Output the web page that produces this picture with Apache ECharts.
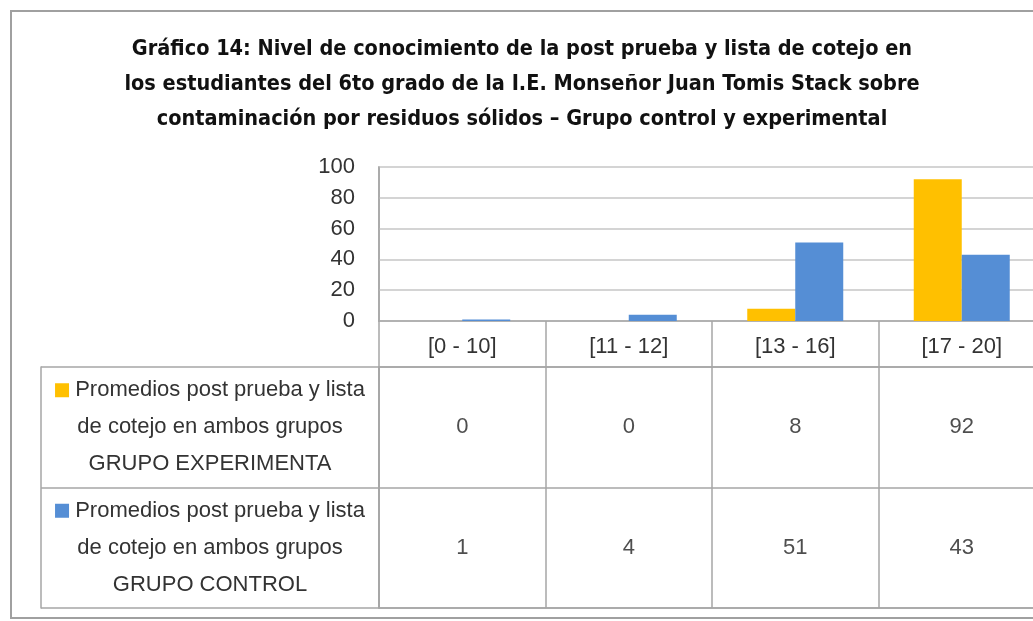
<!DOCTYPE html>
<html>
<head>
<meta charset="utf-8">
<title>Gráfico 14</title>
<script src="https://cdn.jsdelivr.net/npm/echarts@6/dist/echarts.min.js"></script>
<style>
  html, body { margin: 0; padding: 0; background: #fff; }
  #chart { width: 1033px; height: 621px; }
</style>
</head>
<body>
<div id="chart"></div>
<script>
// data
var categories = ['[0 - 10]', '[11 - 12]', '[13 - 16]', '[17 - 20]'];
var seriesNames = [
  'Promedios post prueba y lista\nde cotejo en ambos grupos\nGRUPO EXPERIMENTA',
  'Promedios post prueba y lista\nde cotejo en ambos grupos\nGRUPO CONTROL'
];
var experimental = [0, 0, 8, 92];
var control = [1, 4, 51, 43];
var yTicks = { min: 0, max: 100, interval: 20 };

var colors = ['#FFC000', '#558ED5'];
var lineGray = '#a6a6a6';
var textGray = '#333333';
var font = "'Liberation Sans', Arial, sans-serif";

var chart = echarts.init(document.getElementById('chart'));

// table cells: [column, row, value]
var cellsExp = experimental.map(function (v, i) { return [i, 0, v]; });
var cellsCtrl = control.map(function (v, i) { return [i, 1, v]; });

var option = {
  backgroundColor: '#fff',
  animation: false,
  title: {
    text: 'Gráfico 14: Nivel de conocimiento de la post prueba y lista de cotejo en\n' +
          'los estudiantes del 6to grado de la I.E. Monseñor Juan Tomis Stack sobre\n' +
          'contaminación por residuos sólidos – Grupo control y experimental',
    left: 517,
    top: 27,
    textAlign: 'center',
    textStyle: {
      fontFamily: "'Liberation Sans Narrow', 'DejaVu Sans Condensed', sans-serif",
      fontWeight: 'bold',
      fontSize: 21.5,
      lineHeight: 35,
      color: '#111'
    }
  },
  graphic: [{
    type: 'rect',
    shape: { x: 11, y: 11, width: 1040, height: 607 },
    style: { fill: 'none', stroke: '#a0a0a0', lineWidth: 2 },
    silent: true
  }],
  grid: [
    { left: 379, top: 167, width: 666, height: 154, outerBoundsMode: 'none', show: true, borderColor: lineGray, borderWidth: 1.5 },
    { left: 379, top: 367, width: 666, height: 241, outerBoundsMode: 'none', show: true, borderColor: lineGray, borderWidth: 1.5 }
  ],
  xAxis: [
    {
      gridIndex: 0,
      type: 'category',
      data: categories,
      axisLine: { show: true, lineStyle: { color: lineGray, width: 1.5 } },
      axisTick: { show: true, length: 46, interval: 0, lineStyle: { color: lineGray, width: 1.5 } },
      axisLabel: { margin: 15, fontSize: 22, color: textGray, fontFamily: font, interval: 0 },
      splitLine: { show: false }
    },
    {
      gridIndex: 1,
      type: 'category',
      data: categories,
      position: 'top',
      axisLine: { show: false },
      axisTick: { show: false },
      axisLabel: { show: false },
      splitLine: { show: true, interval: 0, lineStyle: { color: lineGray, width: 1.5 } }
    }
  ],
  yAxis: [
    {
      gridIndex: 0,
      type: 'value',
      min: yTicks.min,
      max: yTicks.max,
      interval: yTicks.interval,
      axisLine: { show: true, lineStyle: { color: lineGray, width: 1.5 } },
      axisTick: { show: false },
      axisLabel: { margin: 24, fontSize: 22, color: textGray, fontFamily: font },
      splitLine: { show: true, lineStyle: { color: '#d4d4d4', width: 2 } }
    },
    {
      gridIndex: 1,
      type: 'category',
      data: seriesNames,
      inverse: true,
      axisLine: { show: true, lineStyle: { color: lineGray, width: 1.5 } },
      axisTick: { show: true, length: 338, interval: 0, lineStyle: { color: lineGray, width: 1.5 } },
      axisLabel: {
        margin: 169,
        align: 'center',
        fontSize: 22,
        lineHeight: 37,
        color: textGray,
        fontFamily: font,
        formatter: function (v, i) { return '{k' + i + '|} ' + v; },
        rich: {
          k0: { width: 14, height: 14, backgroundColor: colors[0] },
          k1: { width: 14, height: 14, backgroundColor: colors[1] }
        }
      },
      splitLine: { show: true, interval: 0, lineStyle: { color: lineGray, width: 1.5 } }
    },
    {
      // left edge of the legend column
      gridIndex: 1,
      type: 'category',
      data: seriesNames,
      position: 'left',
      offset: 338,
      axisLine: { show: true, lineStyle: { color: lineGray, width: 1.5 } },
      axisTick: { show: false },
      axisLabel: { show: false }
    }
  ],
  series: [
    {
      name: seriesNames[0],
      type: 'bar',
      xAxisIndex: 0,
      yAxisIndex: 0,
      data: experimental,
      barWidth: 48,
      barGap: '0%',
      itemStyle: { color: colors[0] }
    },
    {
      name: seriesNames[1],
      type: 'bar',
      xAxisIndex: 0,
      yAxisIndex: 0,
      data: control,
      barWidth: 48,
      barGap: '0%',
      itemStyle: { color: colors[1] }
    },
    {
      type: 'scatter',
      xAxisIndex: 1,
      yAxisIndex: 1,
      data: cellsExp.concat(cellsCtrl),
      symbolSize: 0,
      label: {
        show: true,
        position: 'inside',
        formatter: function (p) { return String(p.data[2]); },
        fontSize: 22,
        color: '#222',
        fontFamily: font
      }
    }
  ]
};

chart.setOption(option);
</script>
</body>
</html>
